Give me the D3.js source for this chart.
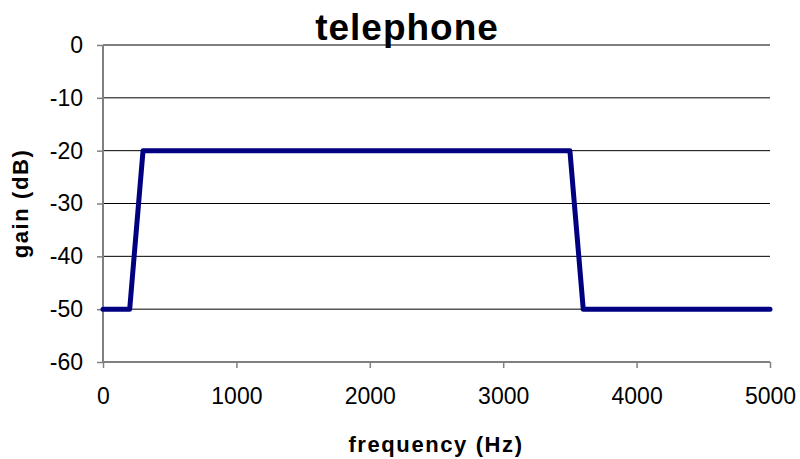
<!DOCTYPE html>
<html>
<head>
<meta charset="utf-8">
<script src="https://cdnjs.cloudflare.com/ajax/libs/d3/7.8.5/d3.min.js"></script>
<style>
  body { margin: 0; background: white; }
  svg text { font-family: Arial, "Liberation Sans", sans-serif; }
</style>
</head>
<body>
<div id="svg-container"></div>
<script>
// data
var freq   = [0, 200, 300, 3500, 3600, 5000];
var gain   = [-50, -50, -20, -20, -50, -50];
var xTicks = [0, 1000, 2000, 3000, 4000, 5000];
var yTicks = [0, -10, -20, -30, -40, -50, -60];

var svgWidth  = 800;
var svgHeight = 459;
var plotLeft = 103, plotRight = 770, plotTop = 45, plotBottom = 362;

var x = d3.scaleLinear().domain([0, 5000]).range([plotLeft, plotRight]);
var y = d3.scaleLinear().domain([-60, 0]).range([plotBottom, plotTop]);

var svg = d3.select("#svg-container")
  .append("svg")
  .attr("width", svgWidth)
  .attr("height", svgHeight);

svg.append("rect")
  .attr("width", "100%")
  .attr("height", "100%")
  .style("fill", "white");

// horizontal gridlines
svg.append("g")
  .selectAll("line")
  .data(yTicks.filter(function(d) { return d > -60; }))
  .enter()
    .append("line")
    .attr("x1", plotLeft)
    .attr("x2", plotRight)
    .attr("y1", function(d) { return y(d); })
    .attr("y2", function(d) { return y(d); })
    .attr("stroke", "#000")
    .attr("stroke-width", 1);

// plain hyphen labels, no thousands separator
var fmt = function(d) { return String(d); };

// y axis
var yAxis = svg.append("g")
  .attr("transform", "translate(" + plotLeft + ",0)")
  .call(d3.axisLeft(y).tickValues(yTicks).tickFormat(fmt).tickSize(6).tickPadding(10));

// x axis
var xAxis = svg.append("g")
  .attr("transform", "translate(0," + plotBottom + ")")
  .call(d3.axisBottom(x).tickValues(xTicks).tickFormat(fmt).tickSize(6).tickPadding(20));

[yAxis, xAxis].forEach(function(a) {
  a.select(".domain").attr("stroke", "#808080").attr("stroke-width", 2);
  a.selectAll(".tick line").attr("stroke", "#808080").attr("stroke-width", 1.5);
  a.selectAll(".tick text")
    .attr("font-family", "Arial, 'Liberation Sans', sans-serif")
    .attr("font-size", "23px")
    .attr("fill", "#000");
});
yAxis.select(".domain").attr("d", "M0," + plotTop + "V" + plotBottom);
xAxis.select(".domain").attr("d", "M" + plotLeft + ",0H" + plotRight);
yAxis.selectAll(".tick text").attr("x", -20);

// the response line
var line = d3.line()
  .x(function(d, i) { return x(freq[i]); })
  .y(function(d) { return y(d); });

svg.append("path")
  .datum(gain)
  .attr("d", line)
  .attr("fill", "none")
  .attr("stroke", "#000080")
  .attr("stroke-width", 5)
  .attr("stroke-linejoin", "round")
  .attr("stroke-linecap", "round");

// title
svg.append("text")
  .attr("x", 407)
  .attr("y", 40)
  .attr("text-anchor", "middle")
  .attr("font-size", "37px")
  .attr("font-weight", "bold")
  .attr("letter-spacing", "1px")
  .text("telephone");

// axis titles
svg.append("text")
  .attr("x", 436)
  .attr("y", 452)
  .attr("text-anchor", "middle")
  .attr("font-size", "22px")
  .attr("font-weight", "bold")
  .attr("letter-spacing", "1.6px")
  .text("frequency (Hz)");

svg.append("text")
  .attr("transform", "translate(28," + ((plotTop + plotBottom) / 2) + ") rotate(-90)")
  .attr("text-anchor", "middle")
  .attr("font-size", "22px")
  .attr("font-weight", "bold")
  .attr("letter-spacing", "1.6px")
  .text("gain (dB)");
</script>
</body>
</html>
